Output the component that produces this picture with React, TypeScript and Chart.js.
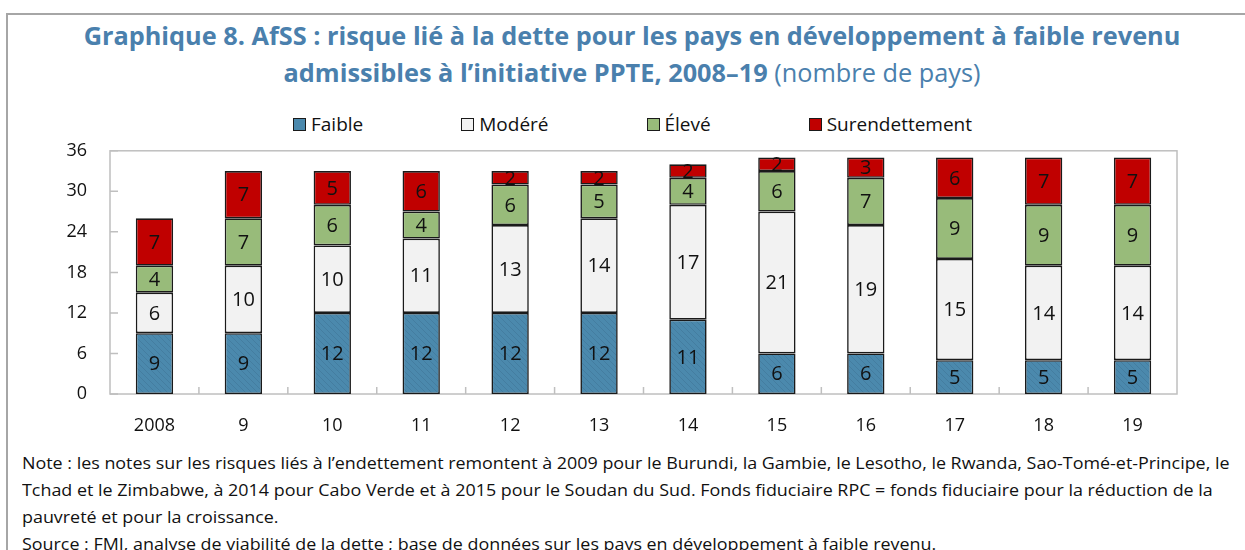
import React, { useEffect, useLayoutEffect, useRef } from "react";
import { Chart, registerables } from "chart.js";

Chart.register(...registerables);

// ---------- data ----------
const years = ["2008", "9", "10", "11", "12", "13", "14", "15", "16", "17", "18", "19"];
const faible = [9, 9, 12, 12, 12, 12, 11, 6, 6, 5, 5, 5];
const modere = [6, 10, 10, 11, 13, 14, 17, 21, 19, 15, 14, 14];
const eleve = [4, 7, 6, 4, 6, 5, 4, 6, 7, 9, 9, 9];
const surendettement = [7, 7, 5, 6, 2, 2, 2, 2, 3, 6, 7, 7];
const seriesNames = ["Faible", "Modéré", "Élevé", "Surendettement"];
const seriesColors = ["#4B89AD", "#F2F2F2", "#98BB7A", "#C00000"];
const yMin = 0;
const yMax = 36;
const yStep = 6;

const titleLine1 = "Graphique 8. AfSS : risque lié à la dette pour les pays en développement à faible revenu";
const titleLine2Bold = "admissibles à l’initiative PPTE, 2008–19";
const titleLine2Regular = " (nombre de pays)";
const noteLines = [
  "Note : les notes sur les risques liés à l’endettement remontent à 2009 pour le Burundi, la Gambie, le Lesotho, le Rwanda, Sao-Tomé-et-Principe, le",
  "Tchad et le Zimbabwe, à 2014 pour Cabo Verde et à 2015 pour le Soudan du Sud. Fonds fiduciaire RPC = fonds fiduciaire pour la réduction de la",
  "pauvreté et pour la croissance.",
  "Source : FMI, analyse de viabilité de la dette ; base de données sur les pays en développement à faible revenu.",
];

const FONT = "'Open Sans', 'Noto Sans', sans-serif";

function makeHatch(base: string): CanvasPattern | string {
  const c = document.createElement("canvas");
  c.width = 6;
  c.height = 6;
  const g = c.getContext("2d");
  if (!g) return base;
  g.fillStyle = base;
  g.fillRect(0, 0, 6, 6);
  g.strokeStyle = "rgba(40,80,110,0.2)";
  g.lineWidth = 1;
  g.beginPath();
  g.moveTo(0, 0);
  g.lineTo(6, 6);
  g.moveTo(-3, 3);
  g.lineTo(3, 9);
  g.moveTo(3, -3);
  g.lineTo(9, 3);
  g.stroke();
  const p = g.createPattern(c, "repeat");
  return p || base;
}

const frameAndTicks = {
  id: "frameAndTicks",
  beforeDatasetsDraw(chart: any) {
    const { ctx, chartArea } = chart;
    const xs = chart.scales.x;
    const ys = chart.scales.y;
    ctx.save();
    ctx.strokeStyle = "#BFBFBF";
    ctx.lineWidth = 1.5;
    ctx.strokeRect(chartArea.left, chartArea.top, chartArea.right - chartArea.left, chartArea.bottom - chartArea.top);
    ctx.beginPath();
    for (let v = yMin; v <= yMax; v += yStep) {
      const y = ys.getPixelForValue(v);
      ctx.moveTo(chartArea.left, y);
      ctx.lineTo(chartArea.left + 8, y);
    }
    for (let i = 0; i < years.length - 1; i++) {
      const x = xs.getPixelForValue(i + 0.5);
      ctx.moveTo(x, chartArea.bottom);
      ctx.lineTo(x, chartArea.bottom - 7);
    }
    ctx.stroke();
    ctx.restore();
  },
};

const dataLabels = {
  id: "dataLabels",
  afterDatasetsDraw(chart: any) {
    const { ctx } = chart;
    ctx.save();
    ctx.font = `20px ${FONT}`;
    ctx.fillStyle = "#111111";
    ctx.textAlign = "center";
    ctx.textBaseline = "middle";
    chart.data.datasets.forEach((ds: any, di: number) => {
      const meta = chart.getDatasetMeta(di);
      meta.data.forEach((el: any, i: number) => {
        const v = ds.data[i];
        if (!v) return;
        const cy = (el.y + el.base) / 2 + 1;
        ctx.fillText(String(v), el.x, cy);
      });
    });
    ctx.restore();
  },
};

export default function App() {
  const canvasRef = useRef<HTMLCanvasElement>(null);
  const notesRef = useRef<HTMLDivElement>(null);

  useLayoutEffect(() => {
    document.body.style.margin = "0";
    const box = notesRef.current;
    if (!box) return;
    const lines = Array.from(box.children) as HTMLElement[];
    if (!lines.length) return;
    const w = lines[0].offsetWidth;
    const s = w > 0 ? 1207 / w : 1;
    lines.forEach((l) => {
      l.style.transform = `scaleX(${s})`;
    });
  }, []);

  useEffect(() => {
    const canvas = canvasRef.current;
    if (!canvas) return;
    const values = [faible, modere, eleve, surendettement];
    const chart = new Chart(canvas, {
      type: "bar",
      data: {
        labels: years,
        datasets: values.map((d, i) => ({
          label: seriesNames[i],
          data: d,
          backgroundColor: i === 0 ? (makeHatch(seriesColors[0]) as any) : seriesColors[i],
          borderColor: "#1A1A1A",
          borderWidth: 1.6,
          borderSkipped: false,
          barPercentage: 0.42,
          categoryPercentage: 1,
        })),
      },
      options: {
        responsive: false,
        animation: false,
        events: [],
        layout: { padding: { left: 0, right: 68, top: 10, bottom: 0 } },
        plugins: {
          legend: { display: false },
          title: { display: false },
          tooltip: { enabled: false },
        },
        scales: {
          x: {
            stacked: true,
            grid: { display: false, drawTicks: false },
            border: { display: false },
            ticks: {
              color: "#111111",
              font: { family: FONT, size: 18 },
              padding: 21,
              maxRotation: 0,
              autoSkip: false,
            },
            afterFit: (s: any) => {
              s.height = 51;
            },
          },
          y: {
            stacked: true,
            min: yMin,
            max: yMax,
            grid: { display: false, drawTicks: false },
            border: { display: false },
            ticks: {
              stepSize: yStep,
              color: "#111111",
              font: { family: FONT, size: 18 },
              padding: 23,
            },
            afterFit: (s: any) => {
              s.width = 110;
            },
          },
        },
      },
      plugins: [frameAndTicks, dataLabels],
    });
    return () => chart.destroy();
  }, []);

  return (
    <div
      style={{
        position: "fixed",
        left: 0,
        top: 0,
        width: 1245,
        height: 550,
        overflow: "hidden",
        background: "#fff",
        fontFamily: FONT,
      }}
    >
      <div
        style={{
          position: "absolute",
          left: 6,
          top: 13,
          width: 1400,
          height: 700,
          borderTop: "2px solid #A6A6A6",
          borderLeft: "2px solid #A6A6A6",
        }}
      />
      <div
        style={{
          position: "absolute",
          left: 0,
          top: 17,
          width: 1264,
          textAlign: "center",
          color: "#4A80AD",
          fontSize: 25.3,
          lineHeight: "37px",
          whiteSpace: "nowrap",
        }}
      >
        <div style={{ fontWeight: 700 }}>{titleLine1}</div>
        <div>
          <span style={{ fontWeight: 700 }}>{titleLine2Bold}</span>
          <span style={{ fontWeight: 400 }}>{titleLine2Regular}</span>
        </div>
      </div>
      <div
        style={{
          position: "absolute",
          left: 293,
          top: 111,
          display: "flex",
          gap: 98,
          alignItems: "center",
          fontSize: 19,
          color: "#111",
          whiteSpace: "nowrap",
        }}
      >
        {seriesNames.map((n, i) => (
          <div key={n} style={{ display: "flex", alignItems: "center" }}>
            <span
              style={{
                display: "inline-block",
                width: 11,
                height: 11,
                background: seriesColors[i],
                border: "1.5px solid #1A1A1A",
                marginRight: 5,
              }}
            />
            <span>{n}</span>
          </div>
        ))}
      </div>
      <canvas
        ref={canvasRef}
        width={1245}
        height={328}
        style={{ position: "absolute", left: 0, top: 117, width: 1245, height: 328 }}
      />
      <div
        ref={notesRef}
        style={{
          position: "absolute",
          left: 22,
          top: 449,
          fontSize: 17,
          lineHeight: "27px",
          color: "#111",
        }}
      >
        {noteLines.map((t, i) => (
          <div
            key={i}
            style={{
              display: "block",
              width: "max-content",
              whiteSpace: "nowrap",
              transformOrigin: "left center",
            }}
          >
            {t}
          </div>
        ))}
      </div>
    </div>
  );
}
